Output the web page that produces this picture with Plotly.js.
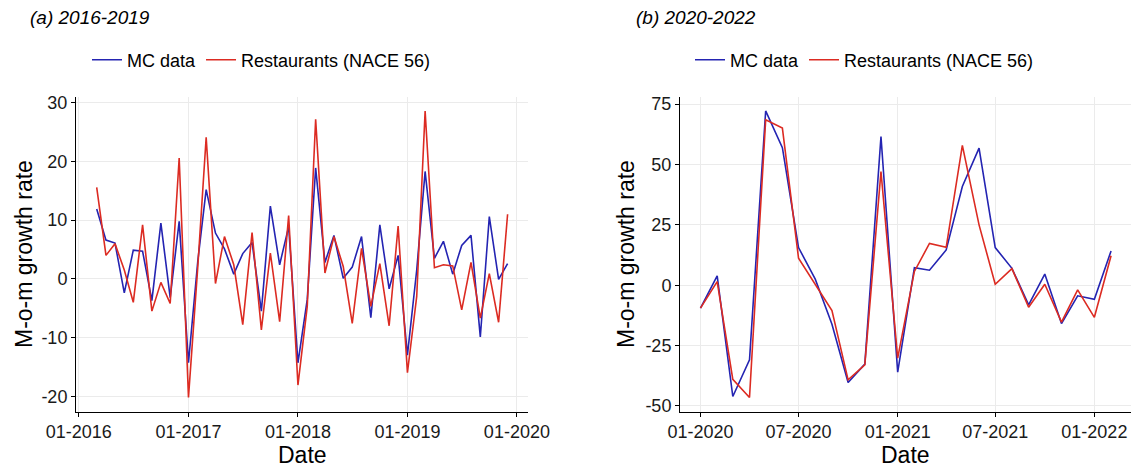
<!DOCTYPE html>
<html><head><meta charset="utf-8">
<script src="https://cdn.plot.ly/plotly-3.0.1.min.js"></script>
<style>html,body{margin:0;padding:0;background:#fff}#chart{width:1132px;height:470px}</style>
</head><body><div id="chart"></div>
<script>
// ---------- data: panel (a) 2016-2019 ----------
const datesA = ["2016-03-01","2016-04-01","2016-05-01","2016-06-01","2016-07-01","2016-08-01","2016-09-01","2016-10-01","2016-11-01","2016-12-01",
"2017-01-01","2017-02-01","2017-03-01","2017-04-01","2017-05-01","2017-06-01","2017-07-01","2017-08-01","2017-09-01","2017-10-01","2017-11-01","2017-12-01",
"2018-01-01","2018-02-01","2018-03-01","2018-04-01","2018-05-01","2018-06-01","2018-07-01","2018-08-01","2018-09-01","2018-10-01","2018-11-01","2018-12-01",
"2019-01-01","2019-02-01","2019-03-01","2019-04-01","2019-05-01","2019-06-01","2019-07-01","2019-08-01","2019-09-01","2019-10-01","2019-11-01","2019-12-01"];
const mcA = [11.9, 6.6, 6.1, -2.4, 4.9, 4.7, -3.7, 9.5, -3.2, 9.8,
-14.3, 3.0, 15.2, 7.8, 5.1, 0.8, 4.3, 6.2, -5.5, 12.4, 2.4, 8.9,
-14.3, -3.5, 18.9, 2.8, 7.4, 0.1, 2.0, 7.2, -6.6, 9.2, -1.7, 4.0,
-13.0, 1.5, 18.3, 3.5, 6.4, 0.8, 5.7, 7.4, -9.9, 10.6, -0.1, 2.6];
const restA = [15.6, 4.0, 6.0, 1.5, -4.0, 9.2, -5.5, -0.6, -4.2, 20.6,
-20.2, 2.0, 24.1, -0.8, 7.2, 2.4, -7.8, 7.9, -8.7, 4.4, -7.3, 10.8,
-18.1, -4.7, 27.2, 1.0, 7.2, 2.1, -7.6, 5.2, -4.7, 2.6, -8.0, 9.0,
-16.0, -3.0, 28.6, 1.9, 2.4, 2.2, -5.3, 2.8, -6.7, 0.9, -7.4, 11.0];

// ---------- data: panel (b) 2020-2022 ----------
const datesB = ["2020-01-01","2020-02-01","2020-03-01","2020-04-01","2020-05-01","2020-06-01","2020-07-01","2020-08-01","2020-09-01","2020-10-01","2020-11-01","2020-12-01",
"2021-01-01","2021-02-01","2021-03-01","2021-04-01","2021-05-01","2021-06-01","2021-07-01","2021-08-01","2021-09-01","2021-10-01","2021-11-01","2021-12-01",
"2022-01-01","2022-02-01"];
const mcB = [-9.5, 3.9, -46.1, -30.9, 72.2, 57.0, 15.6, 2.5, -16.2, -40.3, -32.7, 61.6,
-36.0, 7.3, 6.2, 14.6, 40.9, 56.8, 15.6, 7.0, -8.1, 4.6, -15.9, -4.4,
-5.8, 14.2];
const restB = [-9.5, 1.5, -39.0, -46.5, 68.5, 65.1, 11.2, 0.4, -10.5, -39.2, -33.0, 47.1,
-30.2, 5.7, 17.3, 15.7, 57.9, 25.0, 0.4, 6.9, -9.1, 0.4, -15.3, -1.9,
-13.3, 12.2];

// ---------- tick labels ----------
const xTickValsA = ["2016-01-01","2017-01-01","2018-01-01","2019-01-01","2020-01-01"];
const xTickTextA = ["01-2016","01-2017","01-2018","01-2019","01-2020"];
const xTickValsB = ["2020-01-01","2020-07-01","2021-01-01","2021-07-01","2022-01-01"];
const xTickTextB = ["01-2020","07-2020","01-2021","07-2021","01-2022"];
const yTickValsA = [-20, -10, 0, 10, 20, 30];
const yTickTextA = ["-20", "-10", "0", "10", "20", "30"];
const yTickValsB = [-50, -25, 0, 25, 50, 75];
const yTickTextB = ["-50", "-25", "0", "25", "50", "75"];

const seriesNames = ["MC data", "Restaurants (NACE 56)"];
const titles = ["(a) 2016-2019", "(b) 2020-2022"];

// ---------- styling ----------
const W = 1132, H = 470;
const px = v => v / W, py = v => 1 - v / H;
const BLUE = "#2424b2", RED = "#dc2b22";
const FONT = "Liberation Sans, Arial, Helvetica, sans-serif";

const traces = [
  {x: datesA, y: mcA, name: seriesNames[0], type: "scatter", mode: "lines", line: {color: BLUE, width: 1.6}, xaxis: "x", yaxis: "y", legend: "legend"},
  {x: datesA, y: restA, name: seriesNames[1], type: "scatter", mode: "lines", line: {color: RED, width: 1.6}, xaxis: "x", yaxis: "y", legend: "legend"},
  {x: datesB, y: mcB, name: seriesNames[0], type: "scatter", mode: "lines", line: {color: BLUE, width: 1.6}, xaxis: "x2", yaxis: "y2", legend: "legend2"},
  {x: datesB, y: restB, name: seriesNames[1], type: "scatter", mode: "lines", line: {color: RED, width: 1.6}, xaxis: "x2", yaxis: "y2", legend: "legend2"}
];

const axisCommon = {
  showgrid: true, gridcolor: "#ebebeb", gridwidth: 1,
  showline: true, linecolor: "#000", linewidth: 1,
  ticks: "outside", ticklen: 4, tickwidth: 1, tickcolor: "#000",
  tickfont: {family: FONT, size: 18, color: "#1a1a1a"},
  zeroline: false, fixedrange: true
};
const yDom = [py(411.7), py(96.7)];

const legendCommon = {
  orientation: "h", yanchor: "middle", xanchor: "left", y: py(60),
  font: {family: FONT, size: 18, color: "#000"}, bgcolor: "rgba(0,0,0,0)",
  itemwidth: 30, traceorder: "normal"
};

const layout = {
  width: W, height: H,
  margin: {l: 0, r: 0, t: 0, b: 0},
  paper_bgcolor: "#fff", plot_bgcolor: "#fff",
  font: {family: FONT, size: 18, color: "#000"},
  showlegend: true,
  xaxis: Object.assign({}, axisCommon, {domain: [px(76), px(528)], type: "date", range: ["2015-12-23", "2020-02-07"], tickvals: xTickValsA, ticktext: xTickTextA, anchor: "y"}),
  yaxis: Object.assign({}, axisCommon, {domain: yDom, range: [-22.64, 31.04], tickvals: yTickValsA, ticktext: yTickTextA, anchor: "x"}),
  xaxis2: Object.assign({}, axisCommon, {domain: [px(680), px(1131)], type: "date", range: ["2019-11-24", "2022-03-10"], tickvals: xTickValsB, ticktext: xTickTextB, anchor: "y2"}),
  yaxis2: Object.assign({}, axisCommon, {domain: yDom, range: [-52.4, 78.1], tickvals: yTickValsB, ticktext: yTickTextB, anchor: "x2"}),
  legend: Object.assign({}, legendCommon, {x: px(87)}),
  legend2: Object.assign({}, legendCommon, {x: px(690)}),
  annotations: [
    {text: titles[0], xref: "paper", yref: "paper", x: px(28), y: py(18), xanchor: "left", yanchor: "middle", showarrow: false, font: {family: FONT, size: 19, color: "#000", style: "italic"}},
    {text: titles[1], xref: "paper", yref: "paper", x: px(634), y: py(18), xanchor: "left", yanchor: "middle", showarrow: false, font: {family: FONT, size: 19, color: "#000", style: "italic"}},
    {text: "Date", xref: "paper", yref: "paper", x: px(302), y: py(455), xanchor: "center", yanchor: "middle", showarrow: false, font: {family: FONT, size: 23, color: "#000"}},
    {text: "Date", xref: "paper", yref: "paper", x: px(905), y: py(455), xanchor: "center", yanchor: "middle", showarrow: false, font: {family: FONT, size: 23, color: "#000"}},
    {text: "M-o-m growth rate", xref: "paper", yref: "paper", x: px(24), y: py(254), xanchor: "center", yanchor: "middle", textangle: -90, showarrow: false, font: {family: FONT, size: 23, color: "#000"}},
    {text: "M-o-m growth rate", xref: "paper", yref: "paper", x: px(626), y: py(254), xanchor: "center", yanchor: "middle", textangle: -90, showarrow: false, font: {family: FONT, size: 23, color: "#000"}}
  ]
};

Plotly.newPlot("chart", traces, layout, {staticPlot: true, displayModeBar: false});
</script>
</body></html>
